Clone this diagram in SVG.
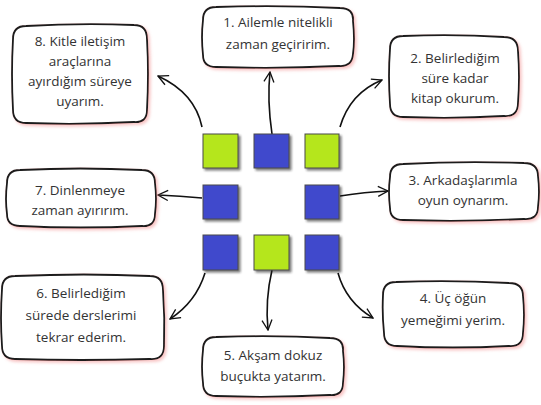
<svg xmlns="http://www.w3.org/2000/svg" width="541" height="405" viewBox="0 0 541 405">
<style>
.box{fill:#fff;stroke:#1a1a1a;stroke-width:1.8;filter:url(#sh)}
.t{font-family:"Open Sans","Liberation Sans",sans-serif;font-size:13.5px;fill:#333;text-anchor:middle}
.sq{stroke:#4a4a4a;stroke-width:1;filter:url(#sqs)}
.g{fill:#b5e61d}
.b{fill:#3f48cc}
.c{fill:none;stroke:#111;stroke-width:1.6;marker-end:url(#ah)}
</style>
<defs>
<filter id="sh" x="-10%" y="-10%" width="130%" height="130%">
<feDropShadow dx="2" dy="2" stdDeviation="1.5" flood-color="#f08080" flood-opacity="0.45"/>
</filter>
<filter id="sqs" x="-20%" y="-20%" width="150%" height="150%">
<feDropShadow dx="2" dy="2" stdDeviation="0.8" flood-color="#222" flood-opacity="0.6"/>
</filter>
<marker id="ah" viewBox="0 0 12 12" refX="11" refY="6" markerWidth="12" markerHeight="12" markerUnits="userSpaceOnUse" orient="auto">
<path d="M1,1 L11,6 L1,11" fill="none" stroke="#111" stroke-width="1.3"/>
</marker>
</defs>
<rect width="541" height="405" fill="#fff"/>
<g id="connectors">
<path class="c" d="M272,134 Q267,100 270,72"/>
<path class="c" d="M202,127 Q195,93 158,76"/>
<path class="c" d="M340,127 Q350,93 382,80"/>
<path class="c" d="M202,198 Q180,196 158,195"/>
<path class="c" d="M340,196 Q365,192 388,191"/>
<path class="c" d="M205,273 Q196,302 170,319"/>
<path class="c" d="M272,270 Q265,300 268,330"/>
<path class="c" d="M338,273 Q346,302 373,318"/>
</g>
<g id="squares">
<rect class="sq g" x="203" y="134" width="35" height="34"/>
<rect class="sq b" x="254" y="134" width="35" height="34"/>
<rect class="sq g" x="305" y="134" width="34" height="34"/>
<rect class="sq b" x="203" y="185" width="35" height="34"/>
<rect class="sq b" x="305" y="185" width="34" height="34"/>
<rect class="sq b" x="203" y="235" width="35" height="35"/>
<rect class="sq g" x="254" y="235" width="35" height="35"/>
<rect class="sq b" x="305" y="235" width="34" height="35"/>
</g>
<g id="n1">
<path class="box" d="M216,7 Q280,5 340,8 Q354,8 353,21 Q355,40 353,54 Q352,67 339,66 Q278,69 216,67 Q203,67 203,55 Q201,37 203,20 Q203,7 216,7Z"/>
<text class="t" x="278" y="27">1. Ailemle nitelikli</text>
<text class="t" x="278" y="49">zaman geçiririm.</text>
</g>
<g id="n2">
<path class="box" d="M403,36 Q455,34 504,37 Q518,37 518,51 Q520,77 518,103 Q518,117 504,116 Q455,119 403,117 Q390,117 390,104 Q388,76 390,49 Q390,36 403,36Z"/>
<text class="t" x="455" y="63">2. Belirlediğim</text>
<text class="t" x="455" y="83">süre kadar</text>
<text class="t" x="455" y="103">kitap okurum.</text>
</g>
<g id="n3">
<path class="box" d="M403,164 Q462,161 524,163 Q538,163 538,176 Q540,192 538,207 Q538,220 524,219 Q462,222 403,220 Q390,220 390,208 Q388,192 390,177 Q390,164 403,164Z"/>
<text class="t" x="463" y="185">3. Arkadaşlarımla</text>
<text class="t" x="463" y="205">oyun oynarım.</text>
</g>
<g id="n4">
<path class="box" d="M396,282 Q453,280 509,283 Q523,283 523,296 Q525,315 523,333 Q523,347 509,346 Q453,349 397,346 Q384,346 384,333 Q382,314 383,295 Q383,282 396,282Z"/>
<text class="t" x="453" y="303">4. Üç öğün</text>
<text class="t" x="453" y="325">yemeğimi yerim.</text>
</g>
<g id="n5">
<path class="box" d="M216,337 Q275,335 330,338 Q344,338 343,351 Q345,367 343,383 Q343,396 330,395 Q272,398 216,396 Q203,396 203,383 Q201,367 203,350 Q203,337 216,337Z"/>
<text class="t" x="273" y="360">5. Akşam dokuz</text>
<text class="t" x="273" y="381">buçukta yatarım.</text>
</g>
<g id="n6">
<path class="box" d="M15,276 Q85,273 150,276 Q163,276 163,290 Q165,318 164,346 Q164,360 150,359 Q80,361 15,359 Q2,359 2,346 Q0,318 2,289 Q2,276 15,276Z"/>
<text class="t" x="81" y="298">6. Belirlediğim</text>
<text class="t" x="81" y="320">sürede derslerimi</text>
<text class="t" x="81" y="342">tekrar ederim.</text>
</g>
<g id="n7">
<path class="box" d="M20,170 Q80,167 142,170 Q155,170 155,183 Q157,199 155,214 Q155,227 142,226 Q80,229 20,226 Q7,226 7,214 Q5,199 7,183 Q7,170 20,170Z"/>
<text class="t" x="80" y="195">7. Dinlenmeye</text>
<text class="t" x="80" y="215">zaman ayırırım.</text>
</g>
<g id="n8">
<path class="box" d="M26,26 Q80,23 134,25 Q147,25 147,39 Q149,74 147,110 Q147,123 134,122 Q80,125 26,123 Q13,123 13,110 Q11,74 13,39 Q13,26 26,26Z"/>
<text class="t" x="80" y="46">8. Kitle iletişim</text>
<text class="t" x="80" y="66">araçlarına</text>
<text class="t" x="80" y="86">ayırdığım süreye</text>
<text class="t" x="80" y="106">uyarım.</text>
</g>
</svg>
